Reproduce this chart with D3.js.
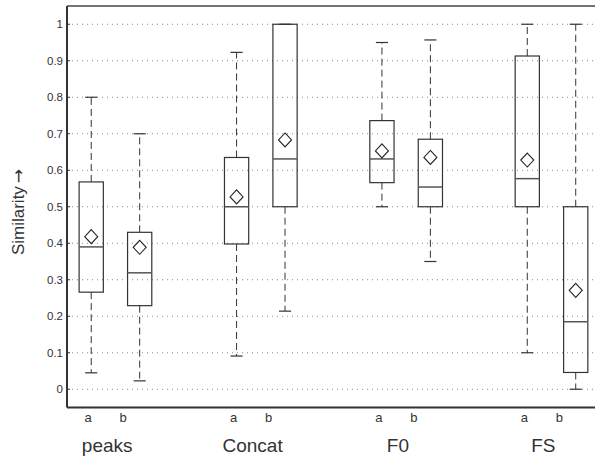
<!DOCTYPE html>
<html>
<head>
<meta charset="utf-8">
<script src="https://cdn.jsdelivr.net/npm/d3@7"></script>
<style>
  body { margin: 0; background: #fff; }
  text { font-family: Helvetica, Arial, "Liberation Sans", sans-serif; fill: #333; }
</style>
</head>
<body>
<svg id="chart" width="595" height="458"></svg>
<script>
// groups and the two conditions inside each one
var groups = ["peaks", "Concat", "F0", "FS"];
var conditions = ["a", "b"];
var positions = [1, 2, 4, 5, 7, 8, 10, 11];

// box statistics, in order peaks a, peaks b, Concat a, ...
var whiskerLow  = [0.045, 0.023, 0.091, 0.214, 0.50, 0.35, 0.10, 0.0];
var q1          = [0.266, 0.229, 0.398, 0.50, 0.566, 0.50, 0.50, 0.046];
var medians     = [0.39, 0.319, 0.50, 0.631, 0.631, 0.554, 0.577, 0.185];
var q3          = [0.568, 0.43, 0.635, 1.0, 0.736, 0.685, 0.913, 0.50];
var whiskerHigh = [0.80, 0.70, 0.923, 1.0, 0.95, 0.957, 1.0, 1.0];
var means       = [0.418, 0.389, 0.527, 0.683, 0.653, 0.635, 0.628, 0.271];

var yTicks = [0, 0.1, 0.2, 0.3, 0.4, 0.5, 0.6, 0.7, 0.8, 0.9, 1];

var svg = d3.select("#chart")
var plotLeft = 67, plotTop = 6, plotBottom = 407.5
var unit = 48.45

var x = d3.scaleLinear()
    .domain([0.5, 11.5])
    .range([plotLeft, plotLeft + 11 * unit])

var y = d3.scaleLinear()
    .domain([-0.05, 1.05])
    .range([plotBottom, plotTop])

var boxes = positions.map(function (p, i) {
    return {
        pos: p, lo: whiskerLow[i], q1: q1[i], med: medians[i],
        q3: q3[i], hi: whiskerHigh[i], mean: means[i]
    }
})

// dotted grid
svg.append("g").selectAll("line")
    .data(yTicks)
    .join("line")
    .attr("x1", plotLeft).attr("x2", 595)
    .attr("y1", d => y(d)).attr("y2", d => y(d))
    .attr("stroke", "#888")
    .attr("stroke-width", 1)
    .attr("stroke-dasharray", "1,4")

var boxW = 0.5, capW = 0.25
var g = svg.append("g")

boxes.forEach(function (b) {
    var cx = x(b.pos)
    var hw = (x(b.pos + boxW / 2) - x(b.pos - boxW / 2)) / 2
    var cw = (x(b.pos + capW / 2) - x(b.pos - capW / 2)) / 2

    // whiskers (dashed)
    g.append("line").attr("x1", cx).attr("x2", cx)
        .attr("y1", y(b.q3)).attr("y2", y(b.hi))
        .attr("stroke", "#333").attr("stroke-dasharray", "7,4")
    g.append("line").attr("x1", cx).attr("x2", cx)
        .attr("y1", y(b.q1)).attr("y2", y(b.lo))
        .attr("stroke", "#333").attr("stroke-dasharray", "7,4")

    // caps
    ;[b.lo, b.hi].forEach(function (v) {
        g.append("line").attr("x1", cx - cw).attr("x2", cx + cw)
            .attr("y1", y(v)).attr("y2", y(v))
            .attr("stroke", "#333").attr("stroke-width", 1.2)
    })

    // box
    g.append("rect")
        .attr("x", cx - hw).attr("y", y(b.q3))
        .attr("width", 2 * hw).attr("height", y(b.q1) - y(b.q3))
        .attr("fill", "none").attr("stroke", "#333").attr("stroke-width", 1.2)

    // median
    g.append("line").attr("x1", cx - hw).attr("x2", cx + hw)
        .attr("y1", y(b.med)).attr("y2", y(b.med))
        .attr("stroke", "#555").attr("stroke-width", 1.5)

    // mean marker (diamond)
    var my = y(b.mean)
    g.append("path")
        .attr("d", "M" + cx + "," + (my - 7) + "L" + (cx + 6.5) + "," + my +
            "L" + cx + "," + (my + 7) + "L" + (cx - 6.5) + "," + my + "Z")
        .attr("fill", "none").attr("stroke", "#222").attr("stroke-width", 1.1)
})

// frame: left, bottom, top
svg.append("line").attr("x1", plotLeft).attr("x2", plotLeft).attr("y1", plotTop).attr("y2", plotBottom)
    .attr("stroke", "#333").attr("stroke-width", 2)
svg.append("line").attr("x1", plotLeft).attr("x2", 595).attr("y1", plotBottom).attr("y2", plotBottom)
    .attr("stroke", "#333").attr("stroke-width", 2)
svg.append("line").attr("x1", plotLeft).attr("x2", 595).attr("y1", plotTop).attr("y2", plotTop)
    .attr("stroke", "#444").attr("stroke-width", 1.5)

// y ticks and labels
svg.append("g").selectAll("line")
    .data(yTicks)
    .join("line")
    .attr("x1", plotLeft).attr("x2", plotLeft + 3)
    .attr("y1", d => y(d)).attr("y2", d => y(d))
    .attr("stroke", "#333")

svg.append("g").selectAll("text")
    .data(yTicks)
    .join("text")
    .attr("x", plotLeft - 4)
    .attr("y", d => y(d))
    .attr("dy", "0.35em")
    .attr("text-anchor", "end")
    .style("font-size", "11.5px")
    .text(d => d3.format("")(d))

// condition labels under each group
groups.forEach(function (name, i) {
    var ax = x(positions[2 * i])
    svg.append("text").attr("x", ax - 3).attr("y", 422)
        .attr("text-anchor", "middle").style("font-size", "13px")
        .text(conditions[0])
    svg.append("text").attr("x", ax + 32).attr("y", 422)
        .attr("text-anchor", "middle").style("font-size", "13px")
        .text(conditions[1])
    svg.append("text").attr("x", ax + 16).attr("y", 452)
        .attr("text-anchor", "middle").style("font-size", "19px")
        .text(name)
})

// y axis title, the arrow drawn in DejaVu for a longer glyph
var title = svg.append("text")
    .attr("transform", "translate(24,212) rotate(-90)")
    .attr("text-anchor", "middle")
    .style("font-size", "17px")
title.append("tspan").text("Similarity")
title.append("tspan").attr("dx", 3).style("font-family", "'DejaVu Sans'").text("\u2192")
</script>
</body>
</html>
